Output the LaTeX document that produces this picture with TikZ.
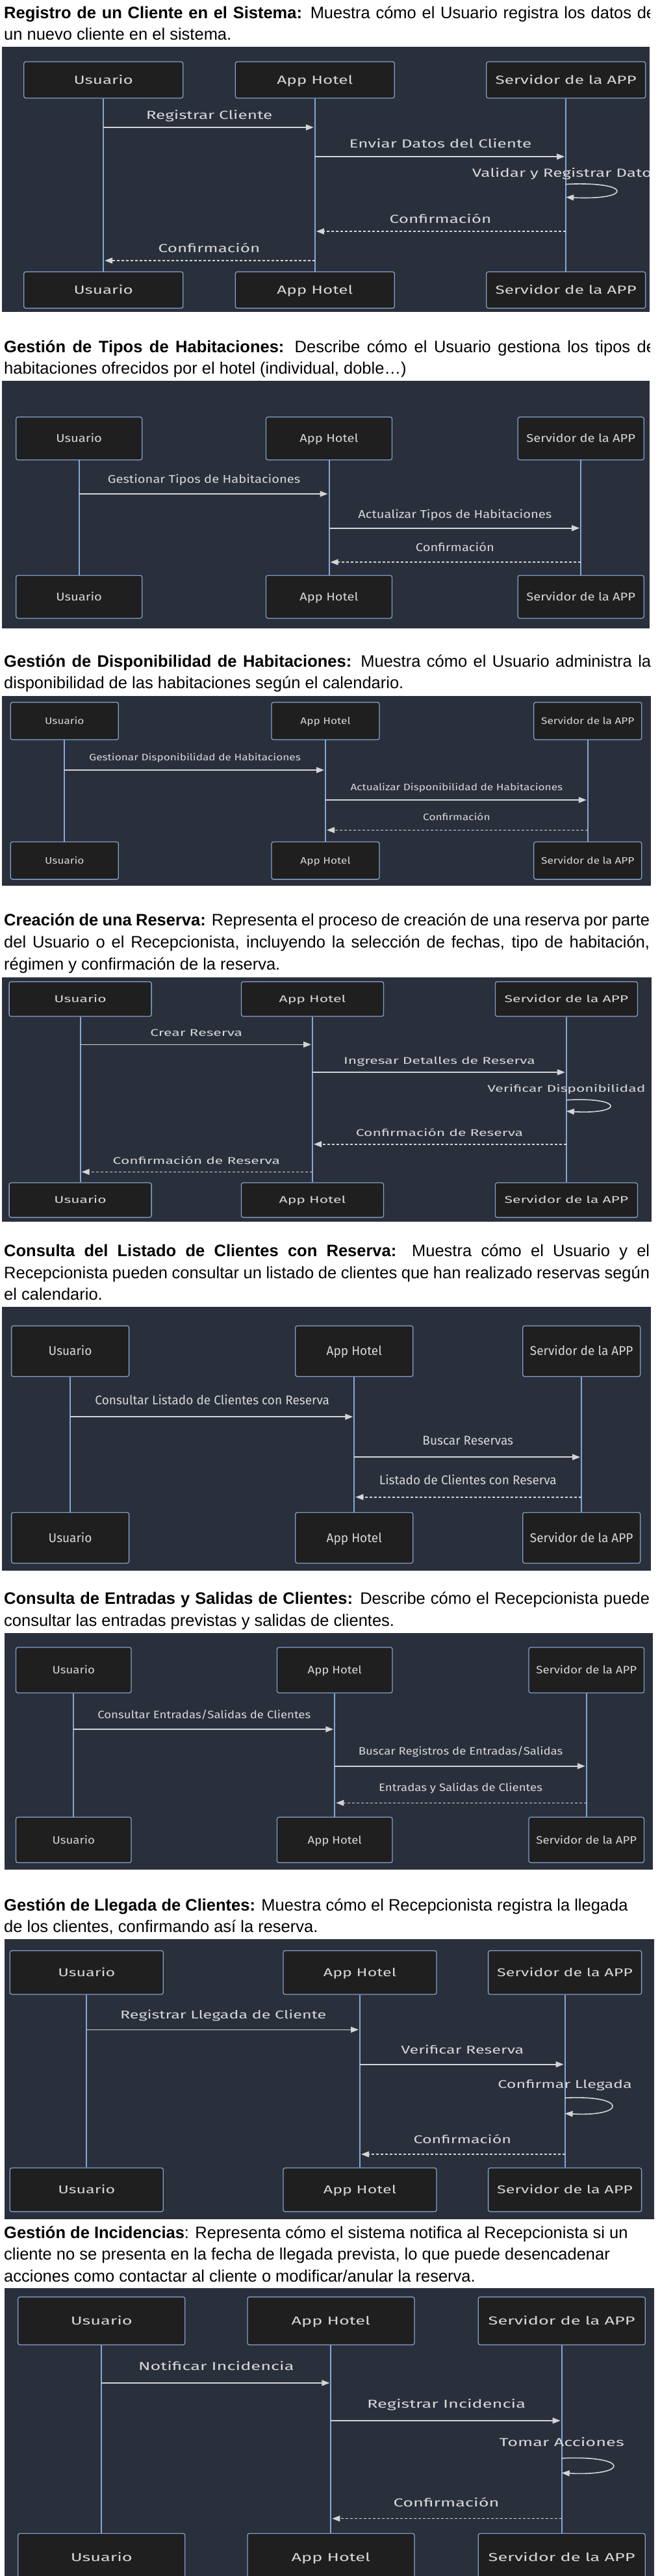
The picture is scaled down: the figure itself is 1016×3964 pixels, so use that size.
\documentclass[tikz,border=0pt]{standalone}
\usepackage{fontspec}
\usepackage{graphicx}
\usetikzlibrary{arrows.meta,calc}
\newfontfamily\dfam{Fira Sans}
\newfontfamily\hfam{Liberation Sans}
\definecolor{bgdark}{RGB}{42,47,60}
\definecolor{boxfill}{RGB}{31,31,31}
\definecolor{boxline}{RGB}{129,161,200}
\definecolor{lifecol}{RGB}{129,169,214}
\definecolor{msgcol}{RGB}{212,212,212}
\definecolor{lbltext}{RGB}{215,215,215}
\newlength\tmpw
\newcommand\hfont{\hfam\fontsize{25.5}{25.5}\selectfont}
\newcommand\defsec[4]{%
  \begingroup
  \dfam\fontsize{#2}{#2}\selectfont
  \settowidth\tmpw{#3}%
  \pgfmathsetmacro\tmpsx{#4/\tmpw}%
  \expandafter\xdef\csname sxX#1\endcsname{\tmpsx}%
  \endgroup
  \expandafter\xdef\csname FX#1\endcsname{#2}%
}
\newcommand\usesec[1]{%
  \edef\sx{\csname sxX#1\endcsname}%
  \edef\secF{\csname FX#1\endcsname}%
  \def\dfont{\dfam\fontsize{\secF}{\secF}\selectfont}%
  \pgfmathsetmacro\capht{0.689*\secF}%
}
\newcommand\stx[1]{\scalebox{\sx}[1]{#1}}
\newcommand\actors[6]{%
  \node[actor] (#1U) at (#2,#5) {\stx{Usuario}};
  \node[actor] (#1A) at (#3,#5) {\stx{App Hotel}};
  \node[actor] (#1S) at (#4,#5) {\stx{Servidor de la APP}};
  \node[actor] (#1Ub) at (#2,#6) {\stx{Usuario}};
  \node[actor] (#1Ab) at (#3,#6) {\stx{App Hotel}};
  \node[actor] (#1Sb) at (#4,#6) {\stx{Servidor de la APP}};
  \draw[life] (#1U) -- (#1Ub);
  \draw[life] (#1A) -- (#1Ab);
  \draw[life] (#1S) -- (#1Sb);
}
\newcommand\msg[7]{%
  \path (#2) -- (#3) coordinate[midway] (#6m);
  \node[lbl] (#6) at (#6m |- 0,#5) {\stx{#7}};
  \draw[#1] (#2 |- 0,#4) -- (#3 |- 0,#4);
}
\newcommand\selfmsg[7]{%
  \node[lbl] (#6) at (#1 |- 0,#5) {\stx{#7}};
  \coordinate (#6p) at (#1 |- 0,#2);
  \coordinate (#6q) at (#1 |- 0,#3);
  \draw[msgs, shorten >=0pt] (#6p) .. controls ($(#6p)+(#4,-5)$) and ($(#6q)+(#4,5)$) .. (#6q);
}
\tikzset{
  bgbox/.style={fill=bgdark, draw=none},
  actor/.style={draw=boxline, fill=boxfill, line width=1.3pt, rounded corners=3pt,
    minimum width=\bw, minimum height=\bh, inner sep=0pt, font=\dfont, text=lbltext,
    text height=\capht pt, text depth=0pt},
  lbl/.style={font=\dfont, text=lbltext, inner sep=0pt, anchor=base},
  life/.style={draw=lifecol, line width=2pt},
  msgs/.style={draw=msgcol, line width=1.6pt, -{Triangle[length=12pt,width=9pt]}, shorten >=2pt},
  msgd/.style={msgs, dash pattern=on 4pt off 3pt},
  hd/.style={font=\hfont, text=black, inner sep=0pt, anchor=base west},
}
\begin{document}
\defsec{a}{18.1}{Registrar Cliente}{194.5}%
\defsec{b}{17.4}{Gestionar Tipos de Habitaciones}{296.5}%
\defsec{c}{14.5}{Gestionar Disponibilidad de Habitaciones}{325.5}%
\defsec{d}{15}{Ingresar Detalles de Reserva}{294.5}%
\defsec{e}{19.5}{Consultar Listado de Clientes con Reserva}{360.5}%
\defsec{f}{16.5}{Consultar Entradas/Salidas de Clientes}{328}%
\defsec{g}{17.4}{Registrar Llegada de Cliente}{317}%
\defsec{h}{17.7}{Notificar Incidencia}{239.5}%
\begin{tikzpicture}[x=1pt,y=-1pt]
\fill[white] (0,0) rectangle (1016,3964);
\useasboundingbox (0,0) rectangle (1016,3964);

% ---------------- Section 1 ----------------
\begin{scope}
\clip (0,0) rectangle (1000,3964);
\node[hd] (h1a) at (6,29) {\makebox[1003pt][s]{\textbf{Registro de un Cliente en el Sistema:} Muestra cómo el Usuario registra los datos de}};
\end{scope}
\node[hd] (h1b) at (6,62) {un nuevo cliente en el sistema.};
\fill[bgbox] (3,72) rectangle (1000,480);
\usesec{a}
\def\bw{245pt}\def\bh{56pt}
\actors{a}{159.2}{484.8}{871.2}{123}{446.3}
\msg{msgs}{aU}{aA}{196}{183.3}{a1}{Registrar Cliente}
\msg{msgs}{aA}{aS}{241}{227.3}{a2}{Enviar Datos del Cliente}
\begin{scope}
\clip (0,0) rectangle (1000,3964);
\selfmsg{aS}{283.5}{303.5}{103}{272}{a3}{Validar y Registrar Datos}
\end{scope}
\msg{msgd}{aS}{aA}{356}{343}{a4}{Confirmación}
\msg{msgd}{aA}{aU}{401}{388}{a5}{Confirmación}

% ---------------- Section 2 ----------------
\begin{scope}
\clip (0,0) rectangle (1000,3964);
\node[hd] (h2a) at (6,542) {\makebox[1003pt][s]{\textbf{Gestión de Tipos de Habitaciones:} Describe cómo el Usuario gestiona los tipos de}};
\end{scope}
\node[hd] (h2b) at (6,575.5) {habitaciones ofrecidos por el hotel (individual, doble…)};
\fill[bgbox] (3,586) rectangle (1000,967);
\usesec{b}
\def\bw{194pt}\def\bh{66pt}
\actors{b}{121.7}{506.5}{894.2}{674.7}{918.4}
\msg{msgs}{bU}{bA}{760}{743.7}{b1}{Gestionar Tipos de Habitaciones}
\msg{msgs}{bA}{bS}{812.7}{797}{b2}{Actualizar Tipos de Habitaciones}
\msg{msgd}{bS}{bA}{865}{848.7}{b3}{Confirmación}

% ---------------- Section 3 ----------------
\node[hd] (h3a) at (6,1026) {\makebox[996pt][s]{\textbf{Gestión de Disponibilidad de Habitaciones:} Muestra cómo el Usuario administra la}};
\node[hd] (h3b) at (6,1059.3) {disponibilidad de las habitaciones según el calendario.};
\fill[bgbox] (3,1071) rectangle (1002,1362.7);
\usesec{c}
\def\bw{166pt}\def\bh{57.6pt}
\actors{c}{99.3}{501}{904.8}{1109.5}{1324.3}
\msg{msgs}{cU}{cA}{1185}{1170.7}{c1}{Gestionar Disponibilidad de Habitaciones}
\msg{msgs}{cA}{cS}{1231}{1216.7}{c2}{Actualizar Disponibilidad de Habitaciones}
\msg{msgd}{cS}{cA}{1277.3}{1262.7}{c3}{Confirmación}

% ---------------- Section 4 ----------------
\node[hd] (h4a) at (6,1424) {\makebox[994pt][s]{\textbf{Creación de una Reserva:} Representa el proceso de creación de una reserva por parte}};
\node[hd] (h4b) at (6,1458) {\makebox[994pt][s]{del Usuario o el Recepcionista, incluyendo la selección de fechas, tipo de habitación,}};
\node[hd] (h4c) at (6,1492.5) {régimen y confirmación de la reserva.};
\fill[bgbox] (3,1504) rectangle (1003,1880);
\usesec{d}
\def\bw{219pt}\def\bh{53.3pt}
\actors{d}{123.6}{481}{871.9}{1537.3}{1846.7}
\msg{msgs}{dU}{dA}{1607.3}{1594.2}{d1}{Crear Reserva}
\msg{msgs}{dA}{dS}{1650}{1637.5}{d2}{Ingresar Detalles de Reserva}
\selfmsg{dS}{1692.7}{1710}{89}{1680.2}{d3}{Verificar Disponibilidad}
\msg{msgd}{dS}{dA}{1760.7}{1748}{d4}{Confirmación de Reserva}
\msg{msgd}{dA}{dU}{1803.3}{1791}{d5}{Confirmación de Reserva}

% ---------------- Section 5 ----------------
\node[hd] (h5a) at (6,1933.5) {\makebox[994pt][s]{\textbf{Consulta del Listado de Clientes con Reserva:} Muestra cómo el Usuario y el}};
\node[hd] (h5b) at (6,1967) {\makebox[994pt][s]{Recepcionista pueden consultar un listado de clientes que han realizado reservas según}};
\node[hd] (h5c) at (6,2000.5) {el calendario.};
\fill[bgbox] (3,2010.7) rectangle (1002,2416.7);
\usesec{e}
\def\bw{181pt}\def\bh{78pt}
\actors{e}{108.1}{545.3}{895.2}{2079.2}{2366.4}
\msg{msgs}{eU}{eA}{2180.2}{2161}{e1}{Consultar Listado de Clientes con Reserva}
\msg{msgs}{eA}{eS}{2242.2}{2223.1}{e2}{Buscar Reservas}
\msg{msgd}{eS}{eA}{2303.7}{2284.9}{e3}{Listado de Clientes con Reserva}

% ---------------- Section 6 ----------------
\node[hd] (h6a) at (6,2468.3) {\makebox[994pt][s]{\textbf{Consulta de Entradas y Salidas de Clientes:} Describe cómo el Recepcionista puede}};
\node[hd] (h6b) at (6,2502) {consultar las entradas previstas y salidas de clientes.};
\fill[bgbox] (6.5,2513.3) rectangle (1005,2877.3);
\usesec{f}
\def\bw{177.5pt}\def\bh{70pt}
\actors{f}{113.3}{515.3}{902.8}{2570}{2831.3}
\msg{msgs}{fU}{fA}{2661}{2644}{f1}{Consultar Entradas/Salidas de Clientes}
\msg{msgs}{fA}{fS}{2717.7}{2700}{f2}{Buscar Registros de Entradas/Salidas}
\msg{msgd}{fS}{fA}{2774.3}{2756.4}{f3}{Entradas y Salidas de Clientes}

% ---------------- Section 7 ----------------
\node[hd] (h7a) at (6,2940) {\textbf{Gestión de Llegada de Clientes:} Muestra cómo el Recepcionista registra la llegada};
\node[hd] (h7b) at (6,2973.3) {de los clientes, confirmando así la reserva.};
\fill[bgbox] (6.5,2984.3) rectangle (1006.5,3415);
\usesec{g}
\def\bw{236pt}\def\bh{67.3pt}
\actors{g}{133.3}{554}{869.6}{3035.3}{3369.7}
\msg{msgs}{gU}{gA}{3123.3}{3106}{g1}{Registrar Llegada de Cliente}
\msg{msgs}{gA}{gS}{3176.7}{3160}{g2}{Verificar Reserva}
\selfmsg{gS}{3228.3}{3252.3}{96}{3213.7}{g3}{Confirmar Llegada}
\msg{msgd}{gS}{gA}{3315}{3298.3}{g4}{Confirmación}

% ---------------- Section 8 ----------------
\node[hd] (h8a) at (6,3444.3) {\textbf{Gestión de Incidencias}: Representa cómo el sistema notifica al Recepcionista si un};
\node[hd] (h8b) at (6,3477.3) {cliente no se presenta en la fecha de llegada prevista, lo que puede desencadenar};
\node[hd] (h8c) at (6,3511) {acciones como contactar al cliente o modificar/anular la reserva.};
\fill[bgbox] (6.5,3520.7) rectangle (1006.5,3964);
\usesec{h}
\def\bw{257pt}\def\bh{73.6pt}
\actors{h}{156.3}{509.4}{864.7}{3571.4}{3935.3}
\msg{msgs}{hU}{hA}{3666.9}{3647.3}{h1}{Notificar Incidencia}
\msg{msgs}{hA}{hS}{3724.9}{3705.6}{h2}{Registrar Incidencia}
\selfmsg{hS}{3782.8}{3805.4}{105}{3764.6}{h3}{Tomar Acciones}
\msg{msgd}{hS}{hA}{3875.6}{3857.4}{h4}{Confirmación}
\end{tikzpicture}
\end{document}
